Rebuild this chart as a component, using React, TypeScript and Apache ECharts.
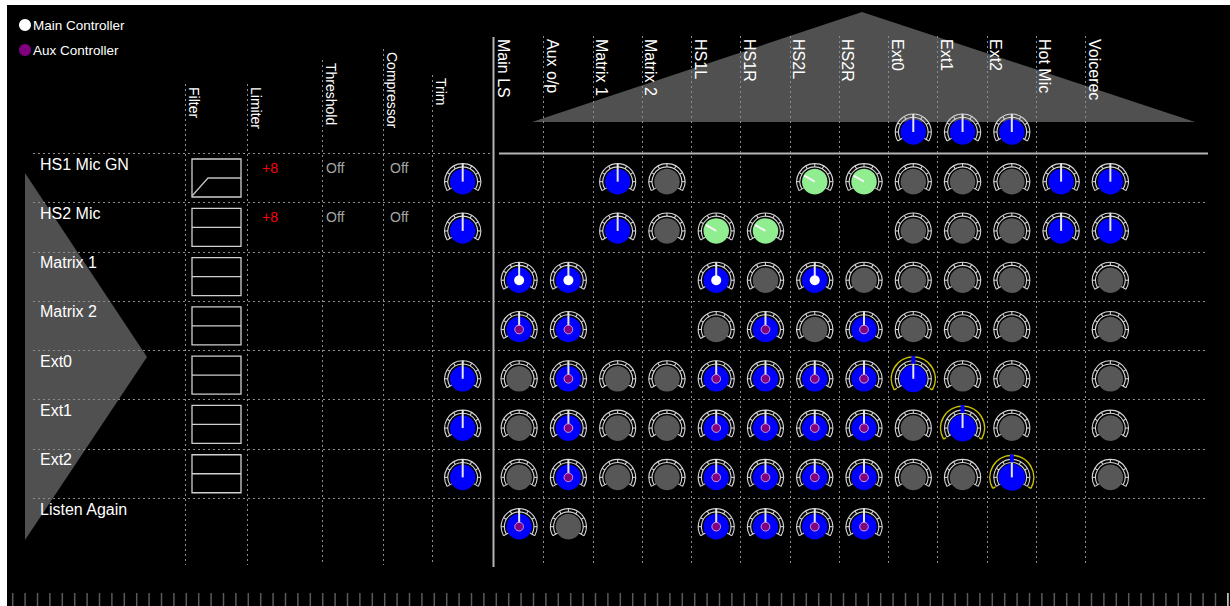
import React, { useEffect, useRef } from 'react';
import * as echarts from 'echarts';

// ---------- data ----------
const inputChannels = ['HS1 Mic GN', 'HS2 Mic', 'Matrix 1', 'Matrix 2', 'Ext0', 'Ext1', 'Ext2', 'Listen Again'];
const outputChannels = ['Main LS', 'Aux o/p', 'Matrix 1', 'Matrix 2', 'HS1L', 'HS1R', 'HS2L', 'HS2R', 'Ext0', 'Ext1', 'Ext2', 'Hot Mic', 'Voicerec'];
const processingColumns = ['Filter', 'Limiter', 'Threshold', 'Compressor', 'Trim'];
const filterTypes = ['shelf', 'flat', 'flat', 'flat', 'flat', 'flat', 'flat', 'none'];
const limiterValues = ['+8', '+8', '', '', '', '', '', ''];
const thresholdValues = ['Off', 'Off', '', '', '', '', '', ''];
const compressorValues = ['Off', 'Off', '', '', '', '', '', ''];
const trimKnobs = [true, true, false, false, true, true, true, false];
// one char per output column: B blue, G grey (off), L light green, W blue + main dot,
// P blue + aux dot, S selected, - none
const crosspointRows = [
  '--BG--LLGGGBB',
  '--BGLL--GGGBB',
  'WW--WGWGGGG-G',
  'PP--GPGPGGG-G',
  'GPGGPPPPSGG-G',
  'GPGGPPPPGSG-G',
  'GPGGPPPPGGS-G',
  'PG--PPPP-----',
];
const outputMasterKnobs = ['Ext0', 'Ext1', 'Ext2'];
const legendNames = ['Main Controller', 'Aux Controller'];
const legendColors = ['#ffffff', '#800080'];

// ---------- layout ----------
const FONT = '"Liberation Sans", Arial, Helvetica, sans-serif';
const GRID = { left: 494, top: 153, width: 640.5, height: 394.3 };
const PROC_EDGES = [185, 247, 322, 383, 432];
const PROC_LABEL_TOP = [87, 87, 63, 52, 78];
const DEG = Math.PI / 180;
const DOT = { stroke: '#8c8c8c', lineWidth: 1, lineDash: [2, 3] };
const FILLS: Record<string, string> = {
  B: '#0000ff', W: '#0000ff', P: '#0000ff', S: '#0000ff', G: '#575757', L: '#90ee90',
};

function txt(x: number, y: number, text: string, fill: string, size: number, extra: any = {}) {
  return {
    type: 'text',
    x,
    y,
    ...extra,
    style: {
      text,
      fill,
      font: `${size}px ${FONT}`,
      align: extra.align || 'left',
      textAlign: extra.align || 'left',
      verticalAlign: extra.va || 'middle',
      textVerticalAlign: extra.va || 'middle',
    },
  };
}

function knob(cx: number, cy: number, kind: string) {
  const els: any[] = [];
  const sel = kind === 'S';
  const scale = '#d6d6d6';
  const arc = (r: number, stroke: string, lw: number) => ({
    type: 'arc',
    shape: { cx, cy, r, startAngle: 150 * DEG, endAngle: 390 * DEG, clockwise: true },
    style: { stroke, fill: 'none', lineWidth: lw },
  });
  if (sel) {
    els.push(arc(22, '#c8c000', 1.5));
    [150, 390].forEach((a) => {
      els.push({
        type: 'line',
        shape: {
          x1: cx + 19 * Math.cos(a * DEG), y1: cy + 19 * Math.sin(a * DEG),
          x2: cx + 22 * Math.cos(a * DEG), y2: cy + 22 * Math.sin(a * DEG),
        },
        style: { stroke: '#c8c000', lineWidth: 1.5 },
      });
    });
  }
  els.push(arc(14.8, scale, 1.1));
  els.push(arc(18, scale, 1.1));
  for (let a = 150; a <= 390; a += 30) {
    const r0 = a === 150 || a === 390 ? 12 : 14.8;
    els.push({
      type: 'line',
      shape: {
        x1: cx + r0 * Math.cos(a * DEG), y1: cy + r0 * Math.sin(a * DEG),
        x2: cx + 18 * Math.cos(a * DEG), y2: cy + 18 * Math.sin(a * DEG),
      },
      style: { stroke: scale, lineWidth: 1.1 },
    });
  }
  els.push({ type: 'circle', shape: { cx, cy, r: sel ? 13.5 : 12.8 }, style: { fill: FILLS[kind] } });
  if (kind === 'L') {
    els.push({
      type: 'line',
      shape: { x1: cx, y1: cy, x2: cx + 12 * Math.cos(210 * DEG), y2: cy + 12 * Math.sin(210 * DEG) },
      style: { stroke: '#f4f4f4', lineWidth: 2 },
    });
  } else if (kind !== 'G') {
    els.push({
      type: 'line',
      shape: { x1: cx, y1: cy, x2: cx, y2: cy - (sel ? 15 : 18) },
      style: { stroke: '#e6e6e6', lineWidth: 2 },
    });
  }
  if (kind === 'W') els.push({ type: 'circle', shape: { cx, cy, r: 5 }, style: { fill: '#ffffff' } });
  if (kind === 'P')
    els.push({ type: 'circle', shape: { cx, cy, r: 4.3 }, style: { fill: '#800080', stroke: '#d8a0d8', lineWidth: 1 } });
  if (sel) els.push({ type: 'rect', shape: { x: cx - 2, y: cy - 23, width: 4, height: 8 }, style: { fill: '#0000ff' } });
  return els;
}

function renderRow(params: any, api: any) {
  const r = params.dataIndex;
  const p = api.coord([0, r]);
  const h = api.size([1, 1])[1];
  const top = p[1] - h / 2;
  const y0 = Math.round(top) + 0.5;
  const els: any[] = [];
  els.push({ type: 'line', shape: { x1: 33, y1: y0, x2: r === 0 ? 493 : 1208, y2: y0 }, style: DOT });
  if (r === 0) {
    els.push({ type: 'line', shape: { x1: 499, y1: y0, x2: 1208, y2: y0 }, style: { stroke: '#b4b4b4', lineWidth: 2 } });
  }
  els.push(txt(40, top + 11, inputChannels[r], '#ffffff', 16));
  const ft = filterTypes[r];
  if (ft !== 'none') {
    els.push({
      type: 'rect', shape: { x: 192, y: top + 6, width: 49, height: 38 },
      style: { stroke: '#d0d0d0', fill: 'none', lineWidth: 1.3 },
    });
    if (ft === 'flat') {
      els.push({ type: 'line', shape: { x1: 192, y1: top + 25, x2: 241, y2: top + 25 }, style: { stroke: '#d0d0d0', lineWidth: 1.3 } });
    } else {
      els.push({
        type: 'polyline', shape: { points: [[192, top + 43], [208, top + 25], [241, top + 25]] },
        style: { stroke: '#c0c0c0', fill: 'none', lineWidth: 1.3 },
      });
    }
  }
  if (limiterValues[r]) els.push(txt(262, top + 15, limiterValues[r], '#ff0000', 14));
  if (thresholdValues[r]) els.push(txt(326, top + 15, thresholdValues[r], '#a6a6a6', 14));
  if (compressorValues[r]) els.push(txt(390, top + 15, compressorValues[r], '#a6a6a6', 14));
  if (trimKnobs[r]) els.push(...knob(462.7, p[1] + 4, 'B'));
  return { type: 'group', children: els };
}

function renderCol(params: any, api: any) {
  const c = params.dataIndex;
  const p = api.coord([c, 0]);
  const w = api.size([1, 1])[0];
  const left = p[0] - w / 2;
  const els: any[] = [];
  if (c === 0) {
    els.push({ type: 'line', shape: { x1: 493.5, y1: 37, x2: 493.5, y2: 567 }, style: { stroke: '#b4b4b4', lineWidth: 2 } });
  } else {
    const lx = Math.round(left) + 0.5;
    els.push({ type: 'line', shape: { x1: lx, y1: 36, x2: lx, y2: 565 }, style: DOT });
  }
  els.push(txt(left + 17, 39, outputChannels[c], '#ffffff', 16, { rotation: -Math.PI / 2, va: 'top' }));
  if (outputMasterKnobs.indexOf(outputChannels[c]) >= 0) els.push(...knob(p[0] + 0.5, 132, 'B'));
  return { type: 'group', children: els };
}

const cells: { col: number; row: number; kind: string }[] = [];
crosspointRows.forEach((line, row) => {
  line.split('').forEach((kind, col) => {
    if (kind !== '-') cells.push({ col, row, kind });
  });
});

function renderCell(params: any, api: any) {
  const cell = cells[params.dataIndex];
  const p = api.coord([cell.col, cell.row]);
  return { type: 'group', children: knob(p[0] + 0.5, p[1] + 4, cell.kind) };
}

function buildGraphic() {
  const g: any[] = [];
  g.push({ type: 'rect', z: -2, shape: { x: 7, y: 5, width: 1223, height: 601 }, style: { fill: '#000000' } });
  g.push({ type: 'polygon', z: -1, shape: { points: [[532, 122], [862, 12], [1195, 122]] }, style: { fill: '#505050' } });
  g.push({ type: 'polygon', z: -1, shape: { points: [[25, 173], [147, 357], [25, 540]] }, style: { fill: '#505050' } });
  legendNames.forEach((name, i) => {
    const y = 25 + i * 25;
    g.push({ type: 'circle', shape: { cx: 25, cy: y, r: 6 }, style: { fill: legendColors[i] } });
    g.push(txt(33, y + 0.5, name, '#ffffff', 13.5));
  });
  processingColumns.forEach((name, i) => {
    const x = PROC_EDGES[i] + 0.5;
    g.push({ type: 'line', shape: { x1: x, y1: PROC_LABEL_TOP[i] - 3, x2: x, y2: 565 }, style: DOT });
    g.push(txt(PROC_EDGES[i] + 16, PROC_LABEL_TOP[i], name, '#ffffff', 14, { rotation: -Math.PI / 2, va: 'top' }));
  });
  for (let k = 0; k < 99; k++) {
    const x = 12.7 + k * 12.4;
    g.push({
      type: 'line', shape: { x1: x, y1: 593, x2: x, y2: 606 },
      style: { stroke: k === 98 ? '#e0e0e0' : '#5a5a5a', lineWidth: 1.5 },
    });
  }
  return g;
}

export default function App() {
  const ref = useRef<HTMLDivElement>(null);
  useEffect(() => {
    if (!ref.current) return;
    const chart = echarts.init(ref.current, undefined, { renderer: 'svg' });
    chart.setOption({
      animation: false,
      backgroundColor: '#ffffff',
      tooltip: { show: false },
      grid: { ...GRID },
      xAxis: { type: 'category', data: outputChannels, show: false },
      yAxis: { type: 'category', data: inputChannels, inverse: true, show: false },
      graphic: { elements: buildGraphic() },
      series: [
        { type: 'custom', name: 'inputs', renderItem: renderRow, data: inputChannels.map((_, r) => [0, r]), z: 3, silent: true },
        { type: 'custom', name: 'outputs', renderItem: renderCol, data: outputChannels.map((_, c) => [c, 0]), z: 3, silent: true },
        { type: 'custom', name: 'crosspoints', renderItem: renderCell, data: cells.map((c) => [c.col, c.row]), z: 5, silent: true },
      ],
    });
    return () => chart.dispose();
  }, []);
  return (
    <div
      ref={ref}
      style={{ position: 'absolute', left: 0, top: 0, width: 1230, height: 606 }}
    />
  );
}
